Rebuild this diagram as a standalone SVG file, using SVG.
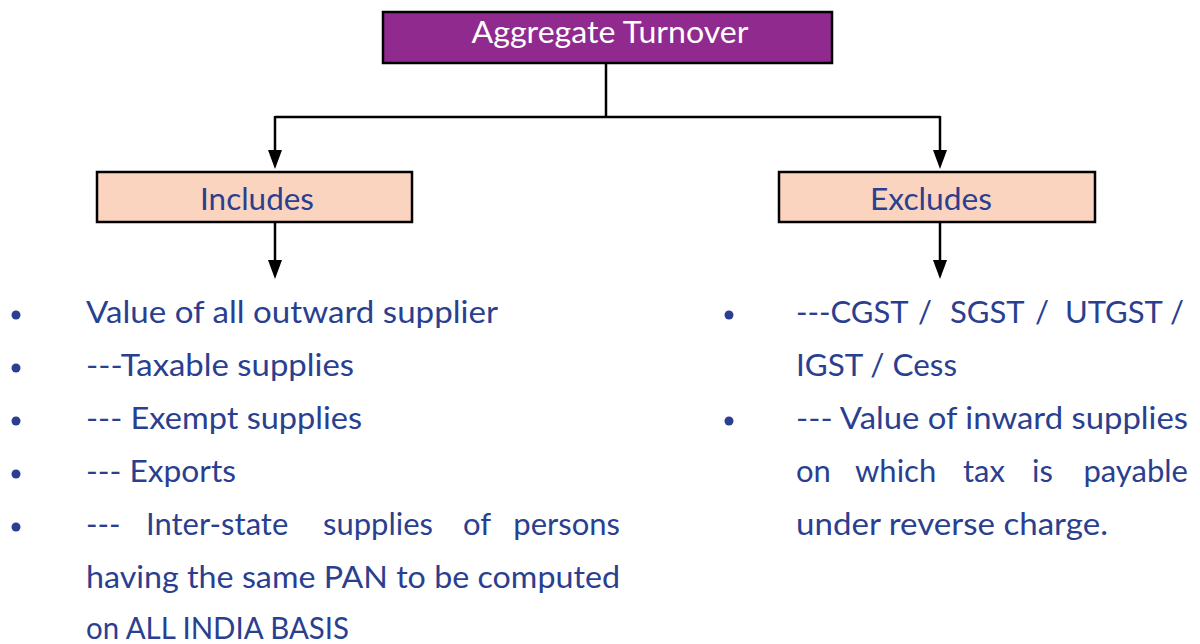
<svg xmlns="http://www.w3.org/2000/svg" width="1200" height="644" viewBox="0 0 1200 644">
<style>
.box{stroke:#000;stroke-width:2.5}
.top{fill:#912A8E}
.sub{fill:#FBD4C0}
.t{font-family:Lato,"Open Sans","DejaVu Sans",sans-serif;font-size:31px;fill:#2A3F8F}
.w{fill:#fff}
.c{stroke:#000;stroke-width:2.5;fill:none}
.b{fill:#2A3F8F}
.ah{fill:#000}
</style>
<g id="connectors">
<path class="c" d="M606,63 V117"/>
<path class="c" d="M275,117 H940"/>
<path class="c" d="M275,116 V152"/>
<path class="ah" d="M268,150 L282,150 L275,169 Z"/>
<path class="c" d="M940,116 V152"/>
<path class="ah" d="M933,150 L947,150 L940,169 Z"/>
<path class="c" d="M275,222 V262"/>
<path class="ah" d="M268,260 L282,260 L275,279 Z"/>
<path class="c" d="M940,222 V262"/>
<path class="ah" d="M933,260 L947,260 L940,279 Z"/>
</g>
<g id="aggregate-turnover">
<rect class="box top" x="383" y="12" width="449" height="51"/>
<text class="t w" x="610" y="43" text-anchor="middle" textLength="277" lengthAdjust="spacingAndGlyphs">Aggregate Turnover</text>
</g>
<g id="includes">
<rect class="box sub" x="97" y="172" width="315" height="50"/>
<text class="t" x="257" y="210" text-anchor="middle" textLength="114" lengthAdjust="spacingAndGlyphs">Includes</text>
</g>
<g id="excludes">
<rect class="box sub" x="779" y="172" width="316" height="50"/>
<text class="t" x="931" y="210" text-anchor="middle" textLength="122" lengthAdjust="spacingAndGlyphs">Excludes</text>
</g>
<g id="includes-list">
<circle class="b" cx="16" cy="315" r="4.5"/>
<circle class="b" cx="16" cy="368" r="4.5"/>
<circle class="b" cx="16" cy="421" r="4.5"/>
<circle class="b" cx="16" cy="474" r="4.5"/>
<circle class="b" cx="16" cy="527" r="4.5"/>
<text class="t" x="86" y="323" textLength="412" lengthAdjust="spacingAndGlyphs">Value of all outward supplier</text>
<text class="t" x="86" y="376" textLength="268" lengthAdjust="spacingAndGlyphs">---Taxable supplies</text>
<text class="t" x="86" y="429" textLength="276" lengthAdjust="spacingAndGlyphs">--- Exempt supplies</text>
<text class="t" x="86" y="482" textLength="150" lengthAdjust="spacingAndGlyphs">--- Exports</text>
<text class="t" y="535"><tspan x="86">---</tspan><tspan x="146">Inter-state</tspan><tspan x="323">supplies</tspan><tspan x="463">of</tspan></text>
<text class="t" x="620" y="535" text-anchor="end">persons</text>
<text class="t" x="86" y="588" textLength="534" lengthAdjust="spacingAndGlyphs">having the same PAN to be computed</text>
<text class="t" x="86" y="639" textLength="263" lengthAdjust="spacingAndGlyphs">on ALL INDIA BASIS</text>
</g>
<g id="excludes-list">
<circle class="b" cx="729" cy="315" r="4.5"/>
<circle class="b" cx="729" cy="421" r="4.5"/>
<text class="t" y="323"><tspan x="796">---CGST</tspan><tspan x="918">/</tspan><tspan x="950">SGST</tspan><tspan x="1035">/</tspan><tspan x="1065">UTGST</tspan></text>
<text class="t" x="1184" y="323" text-anchor="end">/</text>
<text class="t" x="796" y="376" textLength="161" lengthAdjust="spacingAndGlyphs">IGST / Cess</text>
<text class="t" x="796" y="429" textLength="392" lengthAdjust="spacingAndGlyphs">--- Value of inward supplies</text>
<text class="t" y="482"><tspan x="796">on</tspan><tspan x="855">which</tspan><tspan x="963">tax</tspan><tspan x="1032">is</tspan></text>
<text class="t" x="1188" y="482" text-anchor="end">payable</text>
<text class="t" x="796" y="535" textLength="312" lengthAdjust="spacingAndGlyphs">under reverse charge.</text>
</g>
</svg>
